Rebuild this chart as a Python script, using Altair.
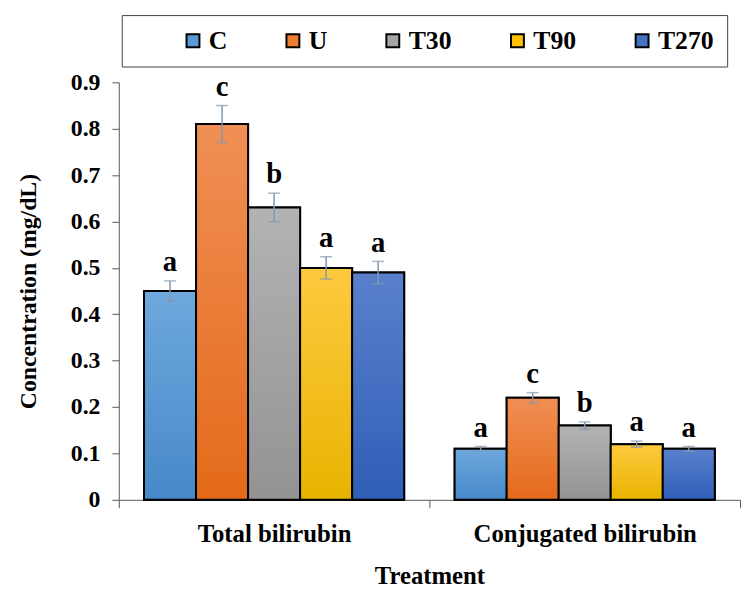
import altair as alt
import pandas as pd

categories = ["Total bilirubin", "Conjugated bilirubin"]
treatments = ["C", "U", "T30", "T90", "T270"]
means_total = [0.45, 0.81, 0.63, 0.50, 0.49]
errs_total = [0.022, 0.04, 0.031, 0.024, 0.024]
letters_total = ["a", "c", "b", "a", "a"]
means_conj = [0.11, 0.22, 0.16, 0.12, 0.11]
errs_conj = [0.005, 0.011, 0.008, 0.0065, 0.005]
letters_conj = ["a", "c", "b", "a", "a"]
colors = ["#5B9BD5", "#ED7D31", "#A5A5A5", "#FFC000", "#4472C4"]
top_colors = ["#6EA8DE", "#F08F55", "#B3B3B3", "#FFC940", "#5A80CC"]
bottom_colors = ["#4689C8", "#E46A1A", "#939393", "#E8B400", "#2F5EB7"]
y_ticks = [0, 0.1, 0.2, 0.3, 0.4, 0.5, 0.6, 0.7, 0.8, 0.9]

rows = []
for cat, means, errs, lets in [
    (categories[0], means_total, errs_total, letters_total),
    (categories[1], means_conj, errs_conj, letters_conj),
]:
    for t, m, e, l in zip(treatments, means, errs, lets):
        rows.append({"category": cat, "treatment": t, "value": m,
                     "lo": m - e, "hi": m + e, "letter": l})
df = pd.DataFrame(rows)

FONT = "Liberation Serif"
AX = "#595959"

x_enc = alt.X("category:N", sort=categories,
              scale=alt.Scale(paddingInner=0, paddingOuter=0),
              axis=alt.Axis(title="Treatment", labelAngle=0, tickBand="extent",
                            tickSize=8, domainColor=AX, tickColor=AX,
                            labelFont=FONT, labelFontSize=25, labelFontWeight="bold",
                            labelColor="black", labelPadding=14, labelLimit=500,
                            titleFont=FONT, titleFontSize=25, titleFontWeight="bold",
                            titleColor="black", titlePadding=18))
xo_enc = alt.XOffset("treatment:N", sort=treatments,
                     scale=alt.Scale(domain=treatments, paddingInner=0, paddingOuter=0.485))
y_axis = alt.Axis(values=y_ticks, title="Concentration (mg/dL)", grid=False,
                  labelExpr="datum.value == 0 ? '0' : format(datum.value, '.1f')",
                  tickSize=7, domainColor=AX, tickColor=AX,
                  labelFont=FONT, labelFontSize=24, labelFontWeight="bold",
                  labelColor="black", labelPadding=12,
                  titleFont=FONT, titleFontSize=24, titleFontWeight="bold",
                  titleColor="black", titlePadding=30)
y_scale = alt.Scale(domain=[0, 0.9], nice=False)

def Y(field):
    return alt.Y(f"{field}:Q", scale=y_scale, axis=y_axis)

base = alt.Chart(df).encode(x=x_enc, xOffset=xo_enc)

solid = base.mark_bar(stroke="black", strokeWidth=2).encode(
    y=Y("value"),
    color=alt.Color("treatment:N", sort=treatments,
                    scale=alt.Scale(domain=treatments, range=colors),
                    legend=alt.Legend(orient="none", legendX=3, legendY=-68,
                                      direction="horizontal", columns=5,
                                      title=" ", titleOrient="left", titlePadding=46,
                                      titleFontSize=10,
                                      strokeColor="#404040", padding=13,
                                      symbolType="square", symbolSize=170,
                                      symbolStrokeColor="black", symbolStrokeWidth=2,
                                      labelFont=FONT, labelFontSize=26,
                                      labelFontWeight="bold", labelColor="black",
                                      columnPadding=53, labelOffset=3)),
)

layers = [solid]
for t, c1, c2 in zip(treatments, top_colors, bottom_colors):
    grad = alt.LinearGradient(gradient="linear", x1=0, x2=0, y1=0, y2=1,
                              stops=[alt.GradientStop(color=c1, offset=0),
                                     alt.GradientStop(color=c2, offset=1)])
    layers.append(base.transform_filter(alt.datum.treatment == t)
                  .mark_bar(stroke="black", strokeWidth=2, color=grad)
                  .encode(y=Y("value")))

EB = "#8497B0"
rule = base.mark_rule(color=EB, strokeWidth=1.5).encode(y=Y("lo"), y2="hi:Q")
cap_lo = base.mark_tick(color=EB, orient="horizontal", size=12, thickness=1.5).encode(y=Y("lo"))
cap_hi = base.mark_tick(color=EB, orient="horizontal", size=12, thickness=1.5).encode(y=Y("hi"))
letters = base.mark_text(font=FONT, fontSize=29, fontWeight="bold", color="black",
                         baseline="alphabetic", dy=-10).encode(y=Y("hi"), text="letter:N")

layers += [rule, cap_lo, cap_hi, letters]

chart = alt.layer(*layers).properties(
    width=628, height=422,
    autosize=alt.AutoSizeParams(type="none"),
    padding={"left": 112, "top": 72, "right": 2, "bottom": 87},
).configure_view(stroke=None)

chart.save("out.html", embed_options={"renderer": "svg", "actions": False})
